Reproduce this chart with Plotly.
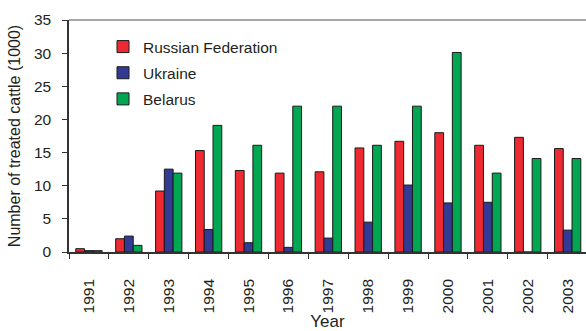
import plotly.graph_objects as go

years = ["1991", "1992", "1993", "1994", "1995", "1996", "1997",
         "1998", "1999", "2000", "2001", "2002", "2003"]
russia = [0.5, 2.0, 9.2, 15.3, 12.3, 11.9, 12.1, 15.7, 16.7, 18.0, 16.1, 17.3, 15.6]
ukraine = [0.2, 2.4, 12.5, 3.4, 1.4, 0.7, 2.1, 4.5, 10.1, 7.4, 7.5, 0.0, 3.3]
belarus = [0.2, 1.0, 11.9, 19.1, 16.1, 22.0, 22.0, 16.1, 22.0, 30.1, 11.9, 14.1, 14.1]

series = [
    ("Russian Federation", russia, "#ED2A32"),
    ("Ukraine", ukraine, "#333A94"),
    ("Belarus", belarus, "#00A651"),
]

FONT = "Liberation Sans, Arial, Helvetica, sans-serif"
TEXT = "#231F20"

fig = go.Figure()
for i, (name, vals, col) in enumerate(series):
    fig.add_trace(go.Bar(
        x=years, y=vals, name=name, legendgroup=str(i),
        marker=dict(color=col, line=dict(color="#1a1a1a", width=1)),
    ))

fig.update_layout(
    width=586, height=331,
    margin=dict(l=69, r=0, t=20, b=79),
    paper_bgcolor="white", plot_bgcolor="white",
    barmode="group", bargap=0.34, bargroupgap=0,
    font=dict(family=FONT, color=TEXT, size=15),
    showlegend=True,
    legend=dict(
        x=(103 - 69) / 517, y=1 - (30 - 20) / 231.7,
        xanchor="left", yanchor="top",
        bgcolor="rgba(0,0,0,0)", borderwidth=0,
        font=dict(size=15.5, family=FONT, color=TEXT),
        tracegroupgap=3, traceorder="grouped",
    ),
    xaxis=dict(
        type="category", range=[-0.5, 12.46],
        showline=True, linecolor="#333333", linewidth=1.5,
        ticks="outside", tickson="boundaries", ticklen=5,
        tickcolor="#333333", tickwidth=1.2,
        tickangle=-90, ticklabelstandoff=19,
        tickfont=dict(size=15.5),
        showgrid=False, zeroline=False,
        title=dict(text="Year", font=dict(size=17), standoff=3),
    ),
    yaxis=dict(
        range=[0, 35], tickmode="linear", tick0=0, dtick=5,
        showline=True, linecolor="#333333", linewidth=1.5,
        ticks="outside", ticklen=5, tickcolor="#333333", tickwidth=1.2,
        ticklabelstandoff=8, tickfont=dict(size=15.5),
        showgrid=False, zeroline=False,
        title=dict(text="Number of treated cattle (1000)", font=dict(size=16), standoff=9),
    ),
    shapes=[dict(type="line", xref="paper", yref="paper", x0=0, x1=1, y0=1, y1=1,
                 line=dict(color="#8a8a8a", width=1.5))],
)

fig.write_html("out.html")
